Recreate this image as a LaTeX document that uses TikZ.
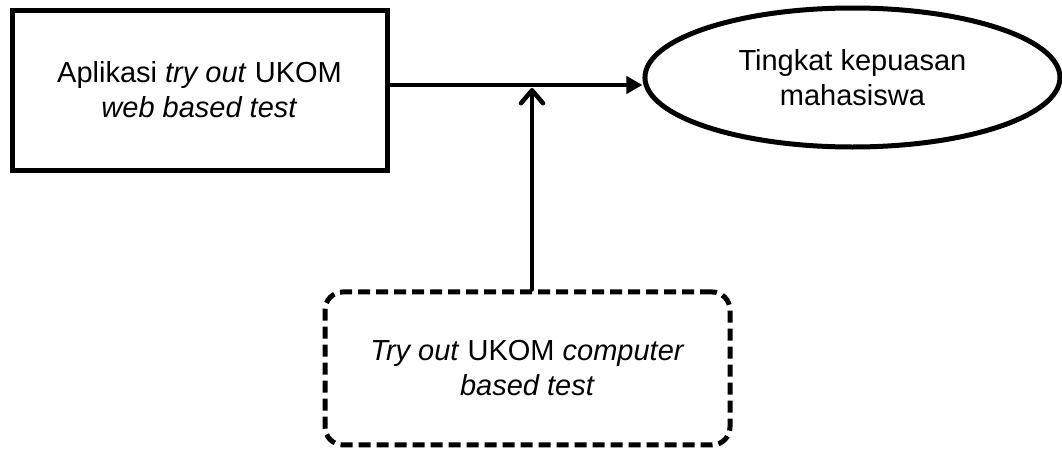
\documentclass[tikz,border=0pt]{standalone}
\usepackage{fontspec}
\setmainfont{Liberation Sans}
\usetikzlibrary{shapes.geometric,arrows.meta}

\tikzset{
  thick box/.style={draw, line width=5pt, align=center},
  main arrow/.style={line width=4.5pt, -{Triangle[length=16pt,width=17pt]}},
  side arrow/.style={line width=4.5pt, line cap=round, line join=round,
    -{Straight Barb[length=13pt,width=22pt,line cap=round,line join=round]}}
}

\begin{document}
\begin{tikzpicture}[font=\fontsize{29}{35}\selectfont]
      \useasboundingbox (0,0) rectangle (1062pt,-450pt);

      \node [thick box, minimum width=375pt, minimum height=160pt] (1) at (199.5pt,-90pt)
        {Aplikasi \textit{try out} UKOM\\ \textit{web based test}};
      \node [thick box, ellipse, minimum width=415pt, minimum height=139pt,
        right of=1, xshift=624.5pt, yshift=12.5pt] (2)
        {Tingkat kepuasan\\ mahasiswa};
      \node [thick box, rounded corners=18pt, dash pattern=on 12pt off 6pt,
        minimum width=405pt, minimum height=153pt,
        below of=1, xshift=328pt, yshift=-250pt] (3)
        {\textit{Try out} UKOM \textit{computer}\\ \textit{based test}};

      %% point where the moderating arrow meets the main one
      \coordinate (m) at (532pt,-85pt);

      \draw[main arrow] (1.east |- m) -- (m -| 2.west);
      \draw[side arrow] (m |- 3.north) -- ([yshift=-3pt]m);
    \end{tikzpicture}
\end{document}
